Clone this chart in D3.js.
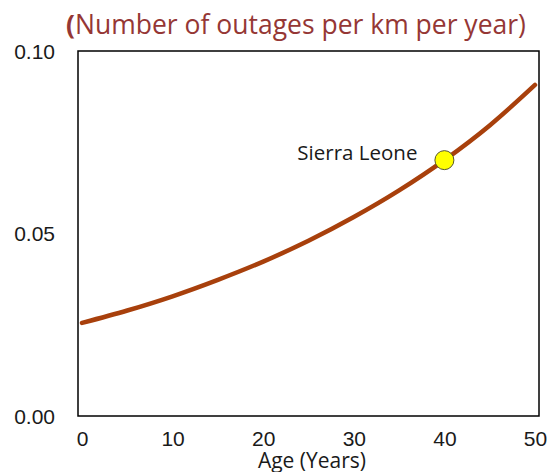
<!DOCTYPE html>
<html>
<head>
<meta charset="utf-8">
<script src="https://cdn.jsdelivr.net/npm/d3@7/dist/d3.min.js"></script>
<style>
    body { margin: 0; background: #fff; }
    svg { display: block; font-family: "Open Sans", sans-serif; }
    .axis text { fill: #1a1a1a; font-size: 21px; }
    .axis path, .axis line { display: none; }
</style>
</head>
<body>
<div id="chart"></div>
<script>
const ages = [0, 5, 10, 15, 20, 25, 30, 35, 40, 45, 50];
const outageRates = [0.0255, 0.0289, 0.0328, 0.0373, 0.0423, 0.0480, 0.0545, 0.0618, 0.0701, 0.0796, 0.0907];
const xTicks = [0, 10, 20, 30, 40, 50];
const yTicks = [0, 0.05, 0.10];
const marker = { label: 'Sierra Leone', age: 40, rate: 0.0701 };

const width = 550;
const height = 472;
const frame = { left: 78, right: 539, top: 51, bottom: 416 };

const svg = d3.select('#chart')
    .append('svg')
    .attr('width', width)
    .attr('height', height);

const x = d3.scaleLinear()
    .domain([0, 50])
    .range([82, 535]);

const y = d3.scaleLinear()
    .domain([0, 0.10])
    .range([frame.bottom, frame.top]);

svg.append('text')
    .attr('x', 66)
    .attr('y', 34)
    .attr('fill', '#953735')
    .attr('font-size', 26.5)
    .call(t => {
        t.append('tspan').attr('font-weight', 'bold').text('(');
        t.append('tspan').text('Number of outages per km per year)');
    });

svg.append('g')
    .attr('class', 'axis')
    .attr('transform', `translate(${frame.left - 23},0)`)
    .call(d3.axisLeft(y).tickValues(yTicks).tickSize(0).tickPadding(0).tickFormat(d3.format('.2f')))
    .selectAll('text')
    .attr('dy', '0.35em');

svg.append('g')
    .attr('class', 'axis')
    .attr('transform', `translate(0,${frame.bottom})`)
    .call(d3.axisBottom(x).tickValues(xTicks).tickSize(0).tickPadding(15));

svg.append('text')
    .attr('x', 312)
    .attr('y', 468)
    .attr('text-anchor', 'middle')
    .attr('fill', '#1a1a1a')
    .attr('font-size', 21)
    .text('Age (Years)');

svg.append('rect')
    .attr('x', frame.left)
    .attr('y', frame.top)
    .attr('width', frame.right - frame.left)
    .attr('height', frame.bottom - frame.top)
    .attr('fill', 'none')
    .attr('stroke', '#000')
    .attr('stroke-width', 1.5);

const line = d3.line()
    .x((d, i) => x(ages[i]))
    .y(d => y(d))
    .curve(d3.curveMonotoneX);

svg.append('path')
    .datum(outageRates)
    .attr('fill', 'none')
    .attr('stroke', '#a8400c')
    .attr('stroke-width', 4.5)
    .attr('stroke-linecap', 'round')
    .attr('d', line);

svg.append('circle')
    .attr('cx', x(marker.age))
    .attr('cy', y(marker.rate))
    .attr('r', 9.5)
    .attr('fill', '#ffff00')
    .attr('stroke', '#55552a')
    .attr('stroke-width', 1);

svg.append('text')
    .attr('x', x(marker.age) - 27)
    .attr('y', y(marker.rate) - 7)
    .attr('dy', '0.35em')
    .attr('text-anchor', 'end')
    .attr('fill', '#1a1a1a')
    .attr('font-size', 20.5)
    .text(marker.label);
</script>
</body>
</html>
